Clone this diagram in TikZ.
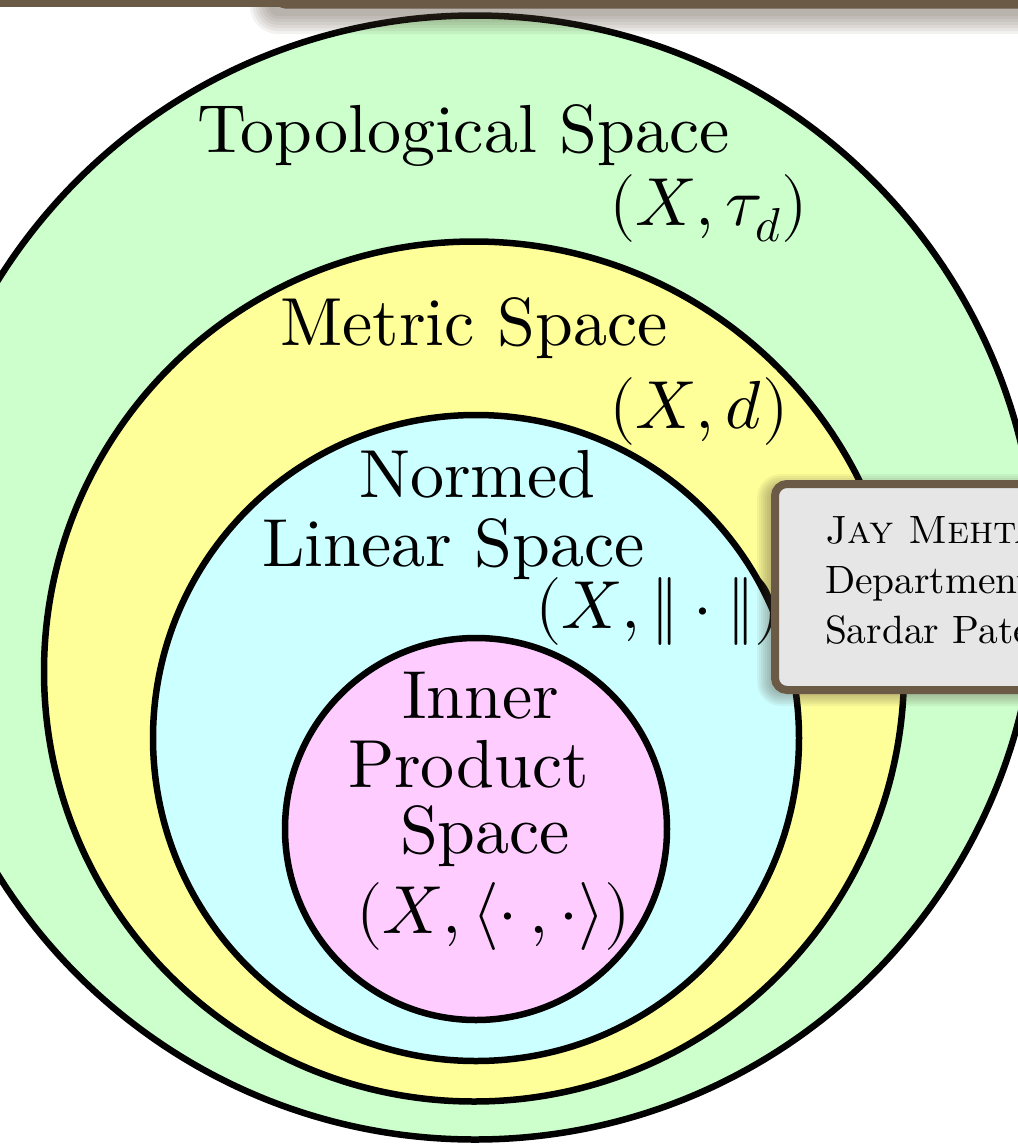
\documentclass[tikz,border=0pt]{standalone}
\usepackage{unicode-math}
\setmathfont{Latin Modern Math}
\newfontfamily\lmten{lmroman10-regular.otf}[SmallCapsFont=lmromancaps10-regular.otf]
\definecolor{topgreen}{RGB}{204,255,204}
\definecolor{metyellow}{RGB}{255,255,153}
\definecolor{normcyan}{RGB}{204,255,255}
\definecolor{ippink}{RGB}{255,204,255}
\definecolor{framebrown}{RGB}{107,90,69}
\definecolor{boxgray}{RGB}{230,230,230}
\definecolor{shadowc}{RGB}{80,65,50}
\newcommand\bigfnt{\lmten\fontsize{68}{80}\selectfont}
\newcommand\boxfnt{\lmten\fontsize{39.5}{50}\selectfont}
\tikzset{
  space/.style={circle, draw=black, line width=6.5pt, inner sep=0pt, outer sep=0pt},
  lbl/.style={anchor=base west, inner sep=0pt, outer sep=0pt, font=\bigfnt},
  boxlbl/.style={anchor=base west, inner sep=0pt, outer sep=0pt, font=\boxfnt},
}
\begin{document}
\begin{tikzpicture}[x=1pt,y=-1pt]
\useasboundingbox (0,0) rectangle (1018,1144);
\clip (0,0) rectangle (1018,1144);
% nested spaces
\node[space, fill=topgreen, minimum size=1124pt] (topo) at (475,577.5) {};
\node[space, fill=metyellow, minimum size=860pt] (metric) at (474,671.5) {};
\node[space, fill=normcyan, minimum size=646pt] (normed) at (476,738) {};
\node[space, fill=ippink, minimum size=382pt] (inner) at (476,829) {};
% labels
\node[lbl] (tlab) at (197,152) {Topological Space};
\node[lbl] (tmath) at (609,225) {$(X,\tau_d)$};
\node[lbl] (mlab) at (280,345) {Metric Space};
\node[lbl] (mmath) at (609,428) {$(X,d)$};
\node[lbl] (nlab1) at (359,497) {Normed};
\node[lbl] (nlab2) at (262,566) {Linear Space};
\node[lbl] (nmath) at (535,628) {$(X,\|\cdot\|)$};
\node[lbl] (ilab1) at (402,718) {Inner};
\node[lbl] (ilab2) at (348,787) {Product};
\node[lbl] (ilab3) at (400,853) {Space};
\node[lbl] (imath) at (356,933) {$(X,\langle\cdot\,,\cdot\rangle)$};
% top frame bar with shadow
\foreach \k in {0,...,6} {
  \fill[shadowc, opacity=0.07, rounded corners={10+3*\k}]
    ({268-3*\k},-20) rectangle (1050,{16+3*\k});
}
\fill[framebrown] (0,-5) rectangle (1018,6.5);
\fill[framebrown, rounded corners=10pt] (275,-20) rectangle (1050,8.5);
% author box with shadow
\foreach \k in {0,...,6} {
  \fill[shadowc, opacity=0.06, rounded corners={12+2*\k}]
    ({769-2*\k},{486-2*\k}) rectangle (1060,{694+2*\k});
}
\node[draw=framebrown, fill=boxgray, line width=8pt, rounded corners=12pt,
      minimum width=300pt, minimum height=206pt, inner sep=0pt, anchor=north west]
      (authbox) at (771,480) {};
\node[boxlbl] (bl1) at (825,543) {\textsc{Jay Mehta}};
\node[boxlbl] (bl2) at (825,593) {Department};
\node[boxlbl] (bl3) at (825,643) {Sardar Patel};
\end{tikzpicture}
\end{document}
